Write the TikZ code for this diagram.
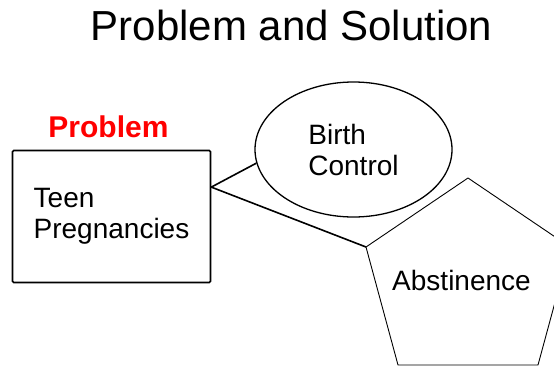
\documentclass[tikz,border=0pt]{standalone}
\usepackage{fontspec}
\setmainfont{Liberation Sans}
\usetikzlibrary{positioning, calc, shapes.geometric}

\begin{document}
\begin{tikzpicture}[
    x=1pt, y=-1pt,
    box/.style={rectangle, draw=black, line width=1.6pt, rounded corners=1.2pt,
                minimum width=198pt, minimum height=132pt, align=left,
                font=\fontsize{28}{31}\selectfont},
    oval/.style={ellipse, draw=black, line width=1.3pt, minimum width=197pt,
                 minimum height=135pt, inner sep=0pt, align=left,
                 font=\fontsize{28}{31}\selectfont},
    line/.style={line width=1.6pt},
    label/.style={font=\fontsize{28}{31}\selectfont},
    heading/.style={font=\fontsize{30}{34}\selectfont\bfseries, red}
]
    \useasboundingbox (0,0) rectangle (554,367);

    % Title
    \node[font=\fontsize{42}{46}\selectfont, anchor=base] (title) at (291.5, 40) {Problem and Solution};

    % Problem
    \node[heading, anchor=base] (problem) at (108.5, 137) {Problem};
    \node[box] (teen) at (111.5, 216.5) {Teen\\Pregnancies};

    % Birth control
    \node[oval] (birth) at (353.5, 149.5) {Birth\\Control};

    % Abstinence (pentagon)
    \coordinate (ptop) at (468, 178);
    \coordinate (pleft) at (366, 247);
    \coordinate (pbl) at (398, 365);
    \coordinate (pbr) at (538, 365);
    \coordinate (pright) at (570, 247);
    \draw[line width=0.9pt, line join=round] (ptop) -- (pleft) -- (pbl) -- (pbr) -- (pright) -- cycle;
    \node[label, anchor=base] (abst) at (461.5, 290) {Abstinence};

    % Connectors
    \coordinate (tip) at ($(teen.north east)!0.28!(teen.south east)$);
    \draw[line] (tip) -- (birth.188);
    \draw[line] (tip) -- (pleft);

\end{tikzpicture}
\end{document}
